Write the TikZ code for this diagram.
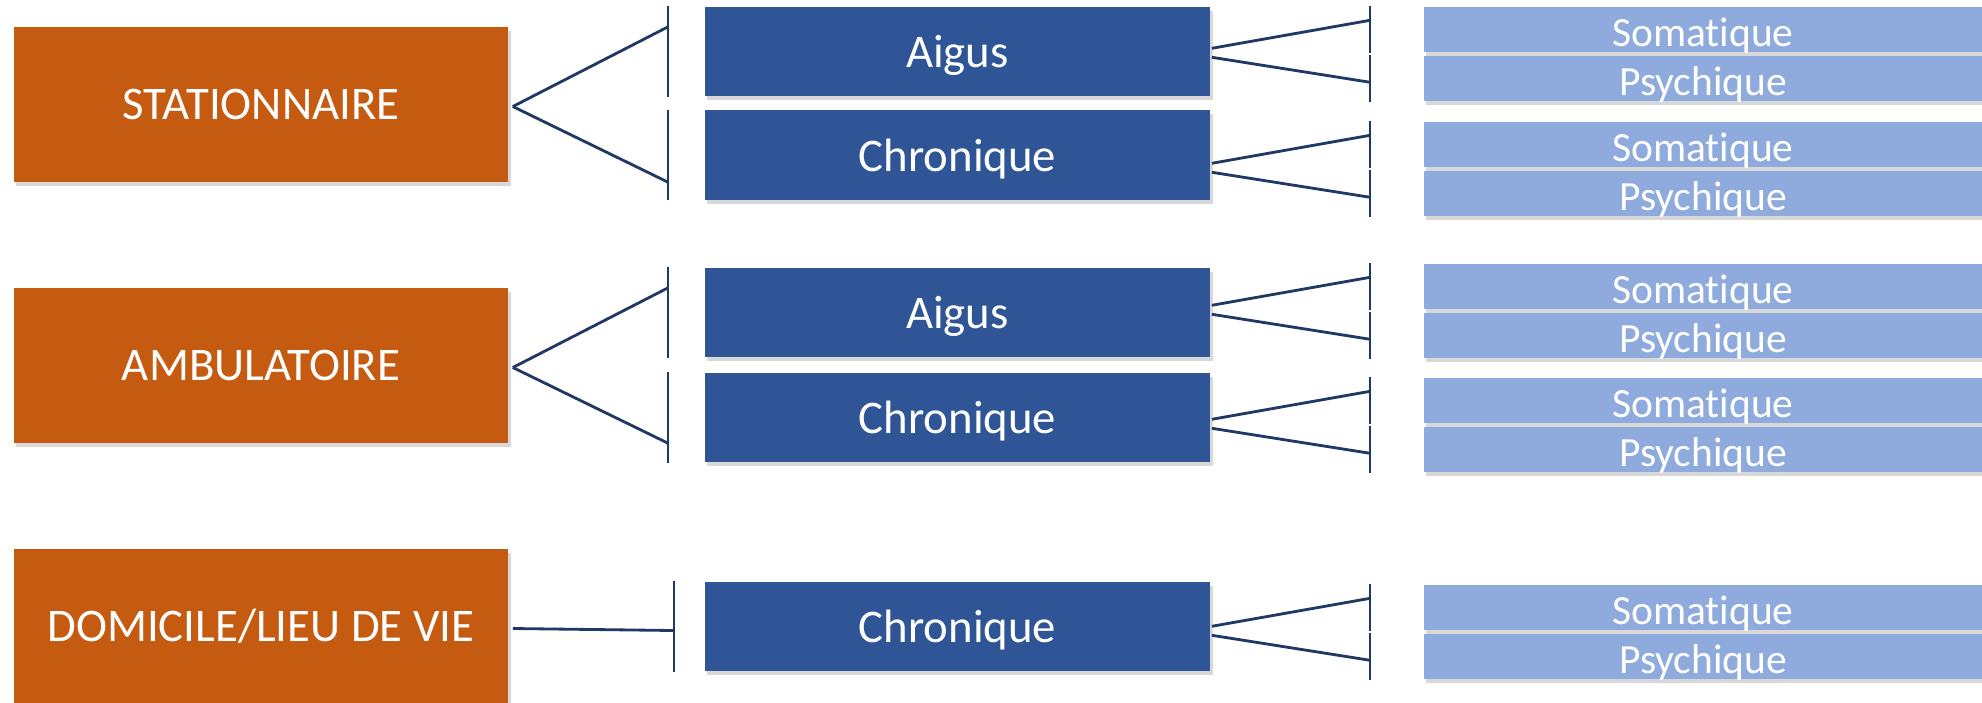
\documentclass[tikz,border=0pt]{standalone}
\usepackage{fontspec}
\setmainfont{Carlito}[Ligatures={NoCommon,NoContextual}, Contextuals=NoAlternate]
\usetikzlibrary{calc, shadows}

\definecolor{careorange}{HTML}{C55A11}
\definecolor{phaseblue}{HTML}{2F5597}
\definecolor{sideblue}{HTML}{8FAADC}
\definecolor{linknavy}{HTML}{203864}

\tikzstyle{softshadow}=[drop shadow={shadow xshift=0.025cm, shadow yshift=-0.04cm, opacity=0.3}]
\tikzstyle{carenode}=[rectangle, fill=careorange, text=white, minimum width=4.94cm, minimum height=1.54cm, inner sep=0, text height=8.4pt, text depth=0pt, font=\fontsize{13.3}{16}\selectfont, softshadow]
\tikzstyle{phasenode}=[rectangle, fill=phaseblue, text=white, minimum width=5.05cm, minimum height=0.89cm, inner sep=0, text height=9.2pt, text depth=0pt, font=\fontsize{13.3}{16}\selectfont, softshadow]
\tikzstyle{sidenode}=[rectangle, fill=sideblue, text=white, minimum width=5.58cm, minimum height=0.45cm, inner sep=0, text height=9.4pt, text depth=0pt, font=\fontsize{11.8}{14}\selectfont, softshadow]
\tikzstyle{linkline}=[linknavy, line width=0.8pt]
\tikzstyle{barline}=[linknavy, line width=0.6pt]
\newcommand{\drawsides}[2]{
  \node[sidenode] (#1So) at (1703,#2+22.5) {Somatique};
  \node[sidenode] (#1Ps) at (1703,#2+71.5) {Psychique};
  \draw[barline] ($(#1So.north west)+(-53,0)$) -- ($(#1So.south west)+(-53,0)$);
  \draw[barline] ($(#1Ps.north west)+(-53,0)$) -- ($(#1Ps.south west)+(-53,0)$);
  \draw[linkline] ($(#1.east |- #1So.north)+(1,42)$) -- ($(#1So.north west)+(-53,14)$);
  \draw[linkline] ($(#1.east |- #1So.north)+(1,51)$) -- ($(#1Ps.north west)+(-53,27)$);
}

\begin{document}
\begin{tikzpicture}[x=0.01cm, y=-0.01cm]
  \path[use as bounding box, fill=white] (0,0) rectangle (1982,702);
  \node[carenode] (Sta) at (261,104.5) {STATIONNAIRE};
  \node[carenode] (Amb) at (261,365.5) {AMBULATOIRE};
  \node[carenode] (Dom) at (261,626.5) {DOMICILE/LIEU DE VIE};
  \node[phasenode] (StaAi) at (957.5,51.5) {Aigus};
  \node[phasenode] (StaCh) at (957.5,155) {Chronique};
  \node[phasenode] (AmbAi) at (957.5,312.5) {Aigus};
  \node[phasenode] (AmbCh) at (957.5,417.5) {Chronique};
  \node[phasenode] (DomCh) at (957.5,626.5) {Chronique};
  \foreach \p in {StaAi, StaCh, AmbAi, AmbCh}
    \draw[barline] ($(\p.north west)+(-36,0)$) -- ($(\p.south west)+(-36,0)$);
  \draw[barline] ($(DomCh.north west)+(-30,0)$) -- ($(DomCh.south west)+(-30,0)$);
  \draw[linkline] ($(Sta.east)+(4,2)$) -- ($(StaAi.west |- Sta.north)+(-36,0)$);
  \draw[linkline] ($(Sta.east)+(4,2)$) -- ($(StaCh.west |- Sta.south)+(-36,0)$);
  \draw[linkline] ($(Amb.east)+(4,2)$) -- ($(AmbAi.west |- Amb.north)+(-36,0)$);
  \draw[linkline] ($(Amb.east)+(4,2)$) -- ($(AmbCh.west |- Amb.south)+(-36,0)$);
  \draw[linkline] ($(Dom.east)+(4,2)$) -- ($(DomCh.west)+(-30,4)$);
  \drawsides{StaAi}{7}
  \drawsides{StaCh}{122}
  \drawsides{AmbAi}{264}
  \drawsides{AmbCh}{378}
  \drawsides{DomCh}{585}
\end{tikzpicture}
\end{document}
